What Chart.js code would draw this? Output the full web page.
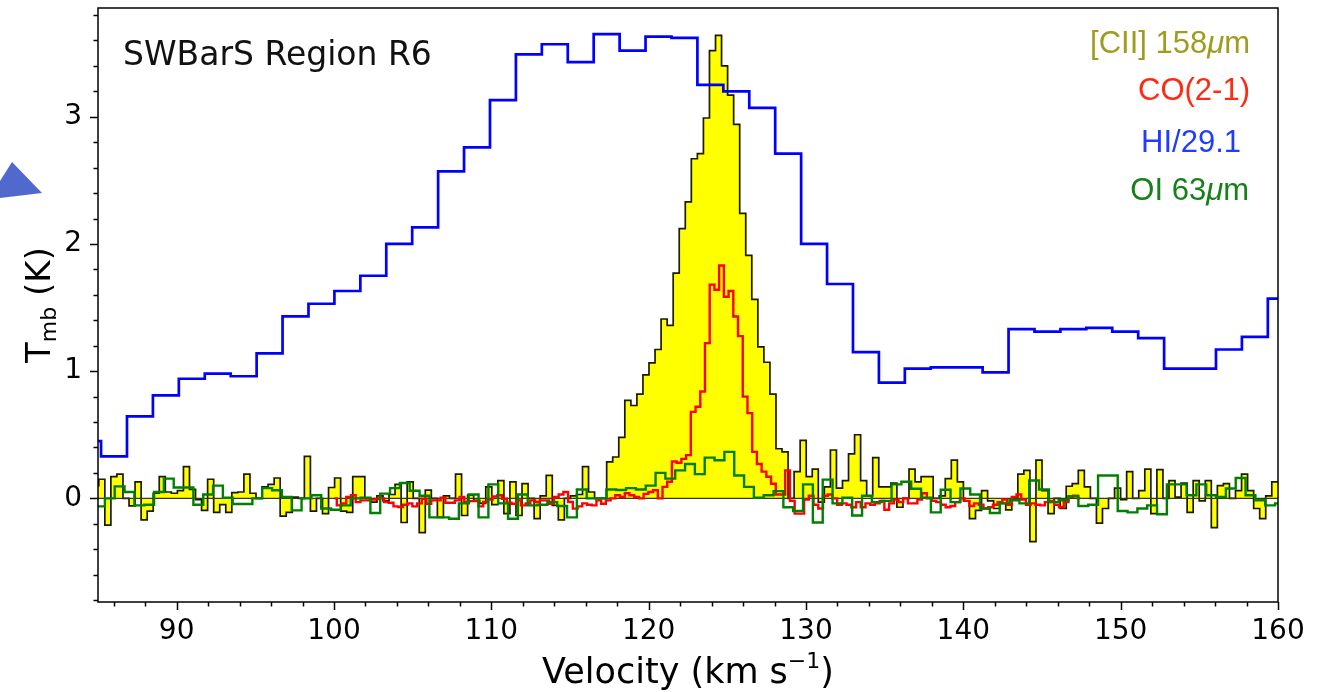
<!DOCTYPE html>
<html>
<head>
<meta charset="utf-8">
<script src="https://cdn.jsdelivr.net/npm/chart.js@4.4.1/dist/chart.umd.min.js"></script>
<style>
  html, body { margin: 0; padding: 0; background: #ffffff; }
  canvas { display: block; }
</style>
</head>
<body>
<canvas id="spectrum" width="1325" height="692"></canvas>
<script>
// ---- spectra, one value per channel (K) ----
// channel grids: centre of first channel and channel width (km/s)
const ciiV0 = 84.858, ciiDv = 0.3843;
const coV0 = 100.03, coDv = 0.30;
const hiV0 = 84.37, hiDv = 1.648;
const oiV0 = 84.50, oiDv = 0.625;

const ciiValues = [
  0.10, 0.15, -0.21, 0.17, 0.19, 0.00, -0.06, 0.13, -0.17, -0.10,
  0.04, 0.17, 0.05, 0.04, 0.06, 0.25, 0.07, -0.01, -0.095, 0.15,
  -0.11, -0.05, -0.11, 0.045, 0.05, 0.19, 0.04, 0.00, 0.09, 0.11,
  0.16, -0.14, -0.11, 0.01, 0.00, 0.33, -0.10, 0.00, -0.12, 0.085,
  0.16, -0.10, -0.11, 0.17, 0.17, 0.00, -0.03, 0.02, -0.02, 0.03,
  0.11, -0.19, 0.13, 0.00, -0.27, 0.065, 0.00, -0.15, 0.02, 0.00,
  0.19, -0.135, 0.025, -0.015, -0.04, 0.09, -0.05, 0.14, -0.12, 0.13,
  -0.135, 0.115, 0.00, -0.16, 0.02, 0.18, -0.055, -0.17, 0.00, 0.02,
  0.03, 0.25, 0.05, 0.00, 0.00, 0.286, 0.325, 0.48, 0.77, 0.73,
  0.82, 0.97, 1.065, 1.17, 1.41, 1.36, 1.77, 2.12, 2.33, 2.67,
  2.71, 2.99, 3.52, 3.64, 3.40, 3.17, 2.94, 2.24, 1.91, 1.565,
  1.19, 1.07, 0.82, 0.39, 0.365, 0.00, 0.21, 0.455, 0.17, 0.23,
  -0.03, 0.09, 0.38, 0.08, 0.14, 0.35, 0.50, 0.14, 0.02, 0.32,
  0.09, 0.09, 0.12, -0.07, 0.00, 0.23, 0.13, 0.17, 0.17, 0.00,
  0.02, 0.155, 0.30, 0.13, -0.02, -0.16, -0.095, 0.06, -0.02, -0.08,
  -0.04, -0.09, 0.00, 0.19, 0.22, -0.34, 0.30, 0.06, -0.12, 0.00,
  -0.08, 0.095, 0.115, 0.22, 0.09, 0.00, -0.195, -0.08, 0.00, 0.08,
  -0.01, 0.21, 0.00, 0.06, 0.23, -0.12, 0.225, 0.00, 0.14, 0.01,
  0.12, -0.11, 0.14, -0.02, 0.14, -0.23, 0.10, 0.115, 0.00, 0.06,
  0.19, 0.06, -0.08, -0.16, 0.02, 0.13, 0.13
];

const coValues = [
  0.00, -0.055, -0.04, 0.01, 0.024, -0.03, -0.016, -0.016, -0.01, -0.005,
  0.00, -0.03, -0.035, -0.063, -0.068, -0.05, -0.04, -0.063, -0.04, -0.003,
  -0.042, -0.016, -0.016, 0.005, -0.035, -0.035, -0.016, 0.01, -0.029, -0.022,
  -0.022, -0.063, -0.029, -0.01, 0.015, 0.024, -0.003, -0.035, -0.042, -0.016,
  -0.055, -0.04, -0.016, -0.029, -0.016, -0.016, -0.042, 0.01, 0.03, 0.05,
  -0.029, -0.081, -0.063, -0.04, -0.05, -0.055, -0.016, -0.042, -0.016, 0.00,
  0.024, 0.01, 0.04, 0.024, 0.01, 0.00, 0.035, 0.05, 0.063, 0.00,
  0.09, 0.13, 0.29, 0.28, 0.31, 0.34, 0.68, 0.72, 0.84, 1.22,
  1.68, 1.64, 1.83, 1.585, 1.63, 1.43, 1.275, 0.80, 0.67, 0.365,
  0.27, 0.21, 0.17, 0.115, 0.03, 0.03, 0.22, -0.02, -0.12, -0.12,
  -0.01, 0.02, -0.05, -0.08, 0.02, 0.03, 0.00, -0.05, -0.04, -0.05,
  -0.07, -0.03, -0.07, -0.04, -0.05, -0.04, -0.02, -0.09, -0.04, -0.01,
  -0.03, 0.00, -0.04, -0.04, -0.01, 0.04, 0.00, -0.02, -0.03, -0.05,
  -0.07, -0.06, -0.03, 0.00, -0.02, -0.06, -0.04, -0.05, -0.08, -0.07,
  -0.05, -0.03, -0.01, -0.05, 0.01, 0.03, -0.01, -0.05, -0.04, -0.05,
  -0.055, -0.03, -0.02, -0.05, -0.07, -0.03, 0.01, 0.02, 0.00
];

// HI already divided by 29.1
const hiValues = [
  0.45, 0.33, 0.645, 0.81, 0.94, 0.98, 0.96, 1.14, 1.43, 1.53,
  1.63, 1.75, 2.00, 2.13, 2.57, 2.76, 3.13, 3.49, 3.57, 3.43,
  3.65, 3.52, 3.63, 3.62, 3.25, 3.20, 3.07, 2.71, 2.00, 1.685,
  1.15, 0.91, 1.02, 1.03, 1.03, 0.99, 1.33, 1.31, 1.33, 1.34,
  1.31, 1.26, 1.02, 1.02, 1.17, 1.27, 1.57
];

const oiValues = [
  -0.06, -0.063, 0.00, 0.094, 0.05, -0.055, -0.05, 0.05, 0.155, 0.085,
  0.085, -0.05, 0.03, 0.10, 0.005, -0.045, -0.045, 0.00, 0.08, 0.063,
  0.01, -0.095, 0.00, 0.024, -0.08, -0.09, -0.055, 0.00, 0.005, -0.115,
  0.037, 0.08, 0.12, 0.06, 0.02, -0.15, -0.15, -0.16, -0.04, 0.03,
  -0.15, 0.11, -0.04, -0.16, 0.03, -0.055, -0.05, -0.03, -0.06, -0.15,
  0.07, 0.00, 0.00, 0.069, 0.065, 0.08, 0.069, 0.10, 0.20, 0.155,
  0.22, 0.27, 0.19, 0.32, 0.30, 0.365, 0.18, 0.09, 0.005, 0.024,
  0.057, -0.07, -0.10, 0.11, -0.19, 0.147, -0.04, 0.005, -0.135, 0.02,
  -0.03, -0.02, 0.11, 0.13, 0.075, 0.005, -0.11, 0.067, -0.03, 0.077,
  0.03, -0.08, -0.115, -0.04, -0.015, -0.04, 0.14, 0.07, -0.03, -0.015,
  0.016, -0.06, -0.05, 0.18, 0.18, -0.10, -0.11, -0.08, -0.055, -0.125,
  0.11, 0.11, 0.024, 0.11, 0.024, 0.01, 0.077, 0.16, 0.024, -0.015,
  -0.055, -0.04
];

// ---- axes ----
const velocityRange = [85, 160];
const tmbRange = [-0.815, 3.855];
const velocityTicks = [90, 100, 110, 120, 130, 140, 150, 160];
const tmbTicks = [0, 1, 2, 3];

const TICK_FONT = '"DejaVu Sans", sans-serif';
const NOTE_FONT = '"Liberation Sans", Arial, sans-serif';

function channels(v0, dv, values) {
  return values.map((y, i) => ({ x: v0 + i * dv, y: y }));
}

// draws a run of text pieces (different fonts) starting at x
function drawRuns(ctx, runs, x, y, align) {
  let total = 0;
  runs.forEach(r => { ctx.font = r.font; r.w = ctx.measureText(r.text).width; total += r.w; });
  let cx = align === 'right' ? x - total : (align === 'center' ? x - total / 2 : x);
  runs.forEach(r => {
    ctx.font = r.font;
    ctx.fillStyle = r.color;
    ctx.fillText(r.text, cx, y + (r.dy || 0));
    cx += r.w;
  });
}

const framePlugin = {
  id: 'frame',
  afterDatasetsDraw(chart) {
    const { ctx, chartArea: a, scales } = chart;
    ctx.save();
    ctx.strokeStyle = '#000';
    ctx.lineWidth = 1.5;
    ctx.strokeRect(a.left, a.top, a.right - a.left, a.bottom - a.top);

    // matplotlib style outward ticks, minor every 2 km/s and 0.2 K
    ctx.beginPath();
    for (let v = 86; v <= 160; v += 2) {
      const px = Math.round(scales.x.getPixelForValue(v)) + 0.5;
      const len = v % 10 === 0 ? 8 : 4.5;
      ctx.moveTo(px, a.bottom);
      ctx.lineTo(px, a.bottom + len);
    }
    for (let i = -4; i <= 19; i++) {
      const py = Math.round(scales.y.getPixelForValue(i / 5)) + 0.5;
      const len = i % 5 === 0 ? 8 : 4.5;
      ctx.moveTo(a.left, py);
      ctx.lineTo(a.left - len, py);
    }
    ctx.stroke();
    ctx.restore();
  },
  afterDraw(chart) {
    const { ctx, chartArea: a } = chart;
    ctx.save();
    ctx.textBaseline = 'alphabetic';

    // x axis title with superscript
    drawRuns(ctx, [
      { text: 'Velocity (km s', font: '35px ' + TICK_FONT, color: '#000' },
      { text: '\u22121', font: '22px ' + TICK_FONT, color: '#000', dy: -15 },
      { text: ')', font: '35px ' + TICK_FONT, color: '#000' }
    ], (a.left + a.right) / 2, 683, 'center');

    // y axis title with subscript, rotated
    ctx.save();
    ctx.translate(50, (a.top + a.bottom) / 2);
    ctx.rotate(-Math.PI / 2);
    drawRuns(ctx, [
      { text: 'T', font: '34px ' + TICK_FONT, color: '#000' },
      { text: 'mb', font: '22px ' + TICK_FONT, color: '#000', dy: 6 },
      { text: ' (K)', font: '34px ' + TICK_FONT, color: '#000' }
    ], 0, 0, 'center');
    ctx.restore();

    // region name
    ctx.font = '33px ' + TICK_FONT;
    ctx.fillStyle = '#111';
    ctx.textAlign = 'left';
    ctx.fillText('SWBarS Region R6', 123, 65);

    // line labels, right aligned
    const f = '31px ' + NOTE_FONT, fi = 'italic 31px ' + NOTE_FONT;
    drawRuns(ctx, [
      { text: '[CII] 158', font: f, color: '#a09c1e' },
      { text: '\u03bc', font: fi, color: '#a09c1e' },
      { text: 'm', font: f, color: '#a09c1e' }
    ], 1250, 53, 'right');
    drawRuns(ctx, [{ text: 'CO(2-1)', font: f, color: '#ff2a10' }], 1250, 100, 'right');
    drawRuns(ctx, [{ text: 'HI/29.1', font: f, color: '#1f3cff' }], 1241, 152, 'right');
    drawRuns(ctx, [
      { text: 'OI 63', font: f, color: '#16801a' },
      { text: '\u03bc', font: fi, color: '#16801a' },
      { text: 'm', font: f, color: '#16801a' }
    ], 1249, 200, 'right');

    // piece of a pointer arrow cut by the left edge of the figure
    ctx.fillStyle = '#4f69cc';
    ctx.beginPath();
    ctx.moveTo(0, 181);
    ctx.lineTo(12, 162);
    ctx.lineTo(42, 193);
    ctx.lineTo(0, 198);
    ctx.closePath();
    ctx.fill();
    ctx.restore();
  }
};

const stepLine = (label, data, color, width, order) => ({
  label: label,
  data: data,
  borderColor: color,
  borderWidth: width,
  stepped: 'middle',
  pointRadius: 0,
  fill: false,
  clip: 0,
  order: order
});

const datasets = [
  Object.assign(stepLine('[CII] 158\u03bcm', channels(ciiV0, ciiDv, ciiValues), '#1a1a00', 1.7, 4), {
    fill: 'origin',
    backgroundColor: '#ffff00'
  }),
  stepLine('zero', [{ x: velocityRange[0], y: 0 }, { x: velocityRange[1], y: 0 }], '#3a3a00', 1.4, 3),
  stepLine('CO(2-1)', channels(coV0, coDv, coValues), '#ff0000', 2.4, 2),
  stepLine('HI/29.1', channels(hiV0, hiDv, hiValues), '#0000ff', 2.7, 1),
  stepLine('OI 63\u03bcm', channels(oiV0, oiDv, oiValues), '#008000', 2.4, 0)
];

new Chart(document.getElementById('spectrum'), {
  type: 'line',
  data: { datasets: datasets },
  options: {
    responsive: false,
    animation: false,
    devicePixelRatio: 1,
    layout: { padding: { left: 0, top: 8, right: 47, bottom: 0 } },
    plugins: {
      legend: { display: false },
      tooltip: { enabled: false }
    },
    scales: {
      x: {
        type: 'linear',
        min: velocityRange[0],
        max: velocityRange[1],
        grid: { display: false, drawTicks: false },
        border: { display: false },
        afterBuildTicks: s => { s.ticks = velocityTicks.map(v => ({ value: v })); },
        afterFit: s => { s.height = 90; s.paddingLeft = 0; s.paddingRight = 0; },
        ticks: {
          color: '#000',
          font: { family: TICK_FONT, size: 28 },
          padding: 13,
          maxRotation: 0,
          autoSkip: false
        }
      },
      y: {
        type: 'linear',
        min: tmbRange[0],
        max: tmbRange[1],
        grid: { display: false, drawTicks: false },
        border: { display: false },
        afterBuildTicks: s => { s.ticks = tmbTicks.map(v => ({ value: v })); },
        afterFit: s => { s.width = 98; s.paddingTop = 0; s.paddingBottom = 0; },
        ticks: {
          color: '#000',
          font: { family: TICK_FONT, size: 28 },
          padding: 16,
          autoSkip: false
        }
      }
    }
  },
  plugins: [framePlugin]
});
</script>
</body>
</html>
